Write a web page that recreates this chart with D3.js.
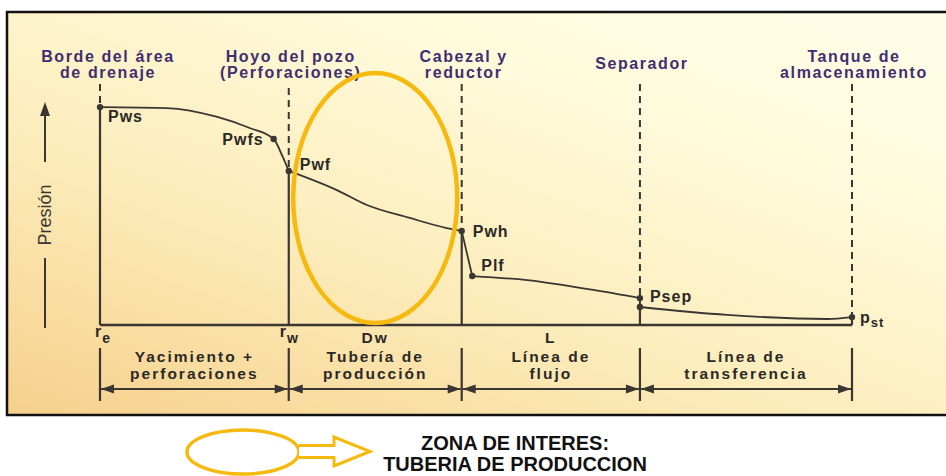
<!DOCTYPE html>
<html>
<head>
<meta charset="utf-8">
<script src="https://cdn.jsdelivr.net/npm/d3@7"></script>
<style>
  body { margin: 0; background: #fff; }
  text { font-family: "Liberation Sans", Arial, sans-serif; }
</style>
</head>
<body>
<div id="chart"></div>
<script>
// stations along the production system (x in arbitrary distance units)
var stations = [0, 25.1, 48.1, 71.8, 100];
var stationTitles = [["Borde del área", "de drenaje"], ["Hoyo del pozo", "(Perforaciones)"],
                     ["Cabezal y", "reductor"], ["Separador"], ["Tanque de", "almacenamiento"]];
var sectionNames = [["Yacimiento +", "perforaciones"], ["Tubería de", "producción"],
                    ["Línea de", "flujo"], ["Línea de", "transferencia"]];
var sectionSymbols = ["", "Dw", "L", ""];

// pressure profile (0-100 relative)
var reservoirX = [0, 8.9, 15.6, 19.9, 23.1, 24.2, 25.1];
var reservoirP = [90.8, 90.4, 86.7, 82.1, 77.5, 70.8, 64.2];
var tubingX = [25.1, 31.5, 35.5, 41.2, 46.1, 48.1];
var tubingP = [64.2, 56.2, 50, 44.6, 40.4, 39.2];
var chokeX = [48.1, 49.5];
var chokeP = [39.2, 20.4];
var flowlineX = [49.5, 56.8, 65.6, 71.8];
var flowlineP = [20.4, 18.7, 14.6, 11.2];
var transferX = [71.8, 83.4, 96.7, 100];
var transferP = [7.5, 4.2, 2.5, 3.3];

// named pressure points
var pointNames = ["Pws", "Pwfs", "Pwf", "Pwh", "Plf", "Psep", "", "p"];
var pointX = [0, 23.1, 25.1, 48.1, 49.5, 71.8, 71.8, 100];
var pointP = [90.8, 77.5, 64.2, 39.2, 20.4, 11.2, 7.5, 3.3];
// pressure where each station's solid line starts
var stationP = [90.8, 64.2, 39.2, 7.5, 3.3];

var W = 946, H = 476;
var purple = "#3f2f70", ink = "#3a3632", gold = "#f6b90f";

var svg = d3.select("#chart").append("svg")
    .attr("width", W).attr("height", H);

var defs = svg.append("defs");
var grad = defs.append("linearGradient").attr("id", "bg")
    .attr("x1", 0).attr("y1", 1).attr("x2", 0.85).attr("y2", 0);
grad.append("stop").attr("offset", 0).attr("stop-color", "#f6d08c");
grad.append("stop").attr("offset", 0.4).attr("stop-color", "#fcecba");
grad.append("stop").attr("offset", 0.75).attr("stop-color", "#fffadb");
grad.append("stop").attr("offset", 1).attr("stop-color", "#fffde6");

// panel
svg.append("rect")
    .attr("x", 7).attr("y", 12).attr("width", W + 20).attr("height", 403)
    .attr("fill", "url(#bg)")
    .attr("stroke", "#111").attr("stroke-width", 2.5);

var x = d3.scaleLinear().domain([0, 100]).range([100, 852]);
var y = d3.scaleLinear().domain([0, 100]).range([325, 85]);

// dashed station lines
svg.append("g").selectAll("line").data(stations).enter().append("line")
    .attr("x1", d => x(d)).attr("x2", d => x(d))
    .attr("y1", (d, i) => i == 1 ? 88 : 84)
    .attr("y2", (d, i) => y(stationP[i]))
    .attr("stroke", ink).attr("stroke-width", 2)
    .attr("stroke-dasharray", "7,5");

// solid station lines
svg.append("g").selectAll("line").data(stations).enter().append("line")
    .attr("x1", d => x(d)).attr("x2", d => x(d))
    .attr("y1", (d, i) => y(stationP[i]))
    .attr("y2", y(0))
    .attr("stroke", ink).attr("stroke-width", 2.2);

// base line
svg.append("line")
    .attr("x1", x(0)).attr("x2", x(100)).attr("y1", y(0)).attr("y2", y(0))
    .attr("stroke", ink).attr("stroke-width", 2.5);

// pressure profile
var smooth = d3.line().x(d => x(d[0])).y(d => y(d[1])).curve(d3.curveMonotoneX);
var straight = d3.line().x(d => x(d[0])).y(d => y(d[1]));
[[reservoirX, reservoirP, smooth], [tubingX, tubingP, smooth], [chokeX, chokeP, straight],
 [flowlineX, flowlineP, smooth], [transferX, transferP, smooth]].forEach(function(s) {
    svg.append("path")
        .attr("d", s[2](d3.zip(s[0], s[1])))
        .attr("fill", "none").attr("stroke", ink).attr("stroke-width", 1.8);
});

svg.append("g").selectAll("circle").data(pointX).enter().append("circle")
    .attr("cx", d => x(d)).attr("cy", (d, i) => y(pointP[i]))
    .attr("r", 3.2).attr("fill", ink);

// point labels
var labelOff = [[8, 15, "start"], [-10, 6, "end"], [11, -1, "start"], [11, 6, "start"],
                [9, -5, "start"], [10, 4, "start"], [0, 0, "start"], [8, 6, "start"]];
var pl = svg.append("g").attr("font-size", 16).attr("font-weight", "bold")
    .attr("fill", "#2b2926").attr("letter-spacing", 1);
pointNames.forEach(function(n, i) {
    if (!n) return;
    var t = pl.append("text")
        .attr("x", x(pointX[i]) + labelOff[i][0])
        .attr("y", y(pointP[i]) + labelOff[i][1])
        .attr("text-anchor", labelOff[i][2])
        .text(n);
    if (n == "p") t.append("tspan").attr("font-size", 13).attr("dy", 4).text("st");
});

// station titles
var st = svg.append("g").attr("font-size", 16).attr("font-weight", "bold")
    .attr("fill", purple).attr("text-anchor", "middle").attr("letter-spacing", 1.6);
stationTitles.forEach(function(lines, i) {
    var cx = x(stations[i]) + (i == 0 ? 8 : 2);
    lines.forEach(function(l, j) {
        st.append("text").attr("x", cx)
            .attr("y", lines.length == 1 ? 69 : 62 + j * 16)
            .text(l);
    });
});

// r_e, r_w
var bl = svg.append("g").attr("font-size", 16).attr("font-weight", "bold")
    .attr("fill", "#2b2926").attr("letter-spacing", 1);
[["r", "e"], ["r", "w"]].forEach(function(r, i) {
    var t = bl.append("text").attr("x", x(stations[i]) - (i == 0 ? 5 : 9)).attr("y", 337).text(r[0]);
    t.append("tspan").attr("dy", 6).attr("font-size", 14).text(r[1]);
});

// section labels and arrows
var sec = svg.append("g").attr("font-size", 15.5).attr("font-weight", "bold")
    .attr("fill", "#2b2926").attr("text-anchor", "middle").attr("letter-spacing", 2);
sectionNames.forEach(function(lines, i) {
    var cx = (x(stations[i]) + x(stations[i + 1])) / 2;
    if (sectionSymbols[i]) sec.append("text").attr("x", cx).attr("y", 343).text(sectionSymbols[i]);
    lines.forEach(function(l, j) {
        sec.append("text").attr("x", cx).attr("y", 362 + j * 17).text(l);
    });
});

var ay = 389;
svg.append("g").selectAll("line").data(stations).enter().append("line")
    .attr("x1", d => x(d)).attr("x2", d => x(d)).attr("y1", 348).attr("y2", 401)
    .attr("stroke", ink).attr("stroke-width", 2.2);
var arr = svg.append("g");
d3.pairs(stations).forEach(function(p) {
    var a = x(p[0]) + 1, b = x(p[1]) - 1;
    arr.append("line").attr("x1", a).attr("x2", b).attr("y1", ay).attr("y2", ay)
        .attr("stroke", ink).attr("stroke-width", 2);
    arr.append("path").attr("d", `M${a},${ay}L${a + 13},${ay - 4.5}L${a + 13},${ay + 4.5}Z`).attr("fill", ink);
    arr.append("path").attr("d", `M${b},${ay}L${b - 13},${ay - 4.5}L${b - 13},${ay + 4.5}Z`).attr("fill", ink);
});

// pressure axis arrow
var px = 45;
svg.append("line").attr("x1", px).attr("x2", px).attr("y1", 110).attr("y2", 162)
    .attr("stroke", ink).attr("stroke-width", 2);
svg.append("path").attr("d", `M${px},102L${px - 5},116L${px + 5},116Z`).attr("fill", ink);
svg.append("line").attr("x1", px).attr("x2", px).attr("y1", 258).attr("y2", 328)
    .attr("stroke", ink).attr("stroke-width", 2);
svg.append("text")
    .attr("transform", `translate(${px + 6},215) rotate(-90)`)
    .attr("text-anchor", "middle").attr("font-size", 18).attr("fill", ink)
    .text("Presión");

// zone of interest
var zx = (x(stations[1]) + x(stations[2])) / 2;
svg.append("ellipse").attr("cx", zx).attr("cy", 198).attr("rx", 82).attr("ry", 125)
    .attr("fill", "none").attr("stroke", gold).attr("stroke-width", 4.5);

// legend
svg.append("ellipse").attr("cx", 243).attr("cy", 452).attr("rx", 56).attr("ry", 22)
    .attr("fill", "none").attr("stroke", gold).attr("stroke-width", 3.5);
svg.append("path")
    .attr("d", "M299,445.5L334,445.5L334,437L370,451.5L334,466L334,457.5L299,457.5")
    .attr("fill", "#fff").attr("stroke", gold).attr("stroke-width", 3).attr("stroke-linejoin", "miter");
var lg = svg.append("g").attr("font-size", 20).attr("font-weight", "bold")
    .attr("fill", "#111").attr("text-anchor", "middle");
lg.append("text").attr("x", 515).attr("y", 450).text("ZONA DE INTERES:");
lg.append("text").attr("x", 515).attr("y", 471).text("TUBERIA DE PRODUCCION");
</script>
</body>
</html>
